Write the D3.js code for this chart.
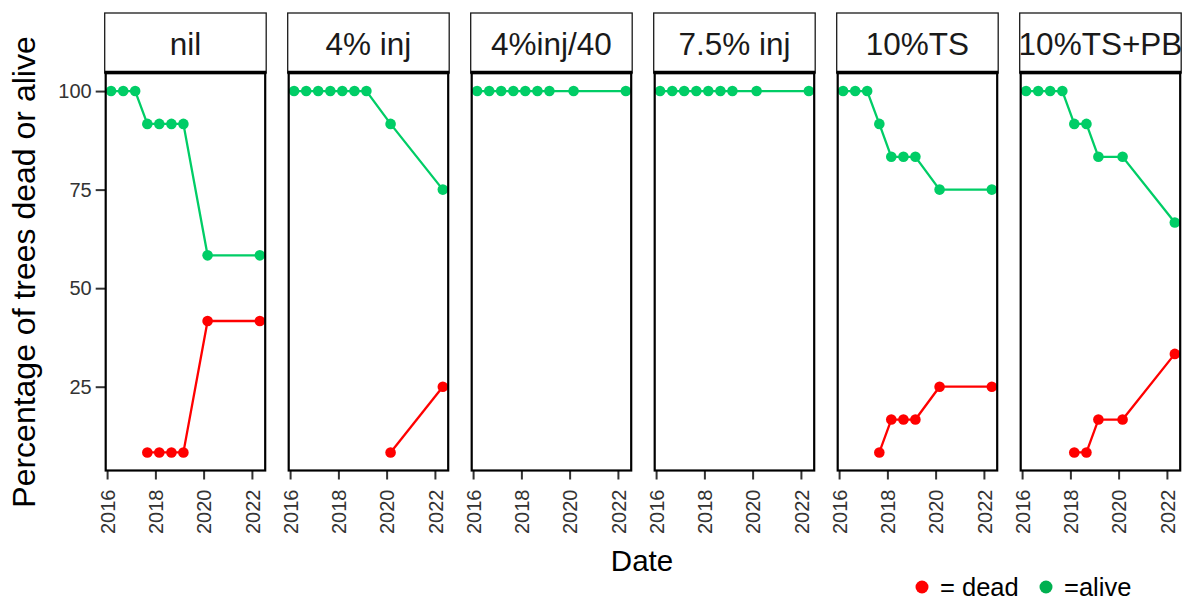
<!DOCTYPE html>
<html>
<head>
<meta charset="utf-8">
<script src="https://cdn.jsdelivr.net/npm/d3@7"></script>
<style>
  html, body { margin: 0; padding: 0; background: #fff; }
  svg { display: block; font-family: "Liberation Sans", Arial, Helvetica, sans-serif; }
</style>
</head>
<body>
<svg id="chart" width="1189" height="601"></svg>
<script>
// Survey dates (one observation per visit)
const surveyDates = ["2016-03-01", "2016-09-01", "2017-03-01", "2017-09-01", "2018-03-01",
                     "2018-09-01", "2019-03-01", "2020-03-01", "2022-05-01"];

// Treatment groups, one facet each
const treatments = ["nil", "4% inj", "4%inj/40", "7.5% inj", "10%TS", "10%TS+PB"];

// Percentage of trees alive per treatment, aligned with surveyDates
const alivePct = [
  [100, 100, 100, 91.67, 91.67, 91.67, 91.67, 58.33, 58.33],
  [100, 100, 100, 100, 100, 100, 100, 91.67, 75],
  [100, 100, 100, 100, 100, 100, 100, 100, 100],
  [100, 100, 100, 100, 100, 100, 100, 100, 100],
  [100, 100, 100, 91.67, 83.33, 83.33, 83.33, 75, 75],
  [100, 100, 100, 100, 91.67, 91.67, 83.33, 83.33, 66.67]
];

// Percentage of trees dead per treatment (null = no dead trees recorded yet)
const deadPct = [
  [null, null, null, 8.33, 8.33, 8.33, 8.33, 41.67, 41.67],
  [null, null, null, null, null, null, null, 8.33, 25],
  [null, null, null, null, null, null, null, null, null],
  [null, null, null, null, null, null, null, null, null],
  [null, null, null, 8.33, 16.67, 16.67, 16.67, 25, 25],
  [null, null, null, null, 8.33, 8.33, 16.67, 16.67, 33.33]
];

const yTicks = [25, 50, 75, 100];
const xTickYears = [2016, 2018, 2020, 2022];
const legendItems = [
  { label: "= dead", color: "#FF0000" },
  { label: "=alive", color: "#00B050" }
];

const deadColor = "#FF0000";
const aliveColor = "#00CD66";

const svg = d3.select("#chart");
const parse = d3.timeParse("%Y-%m-%d");
const dates = surveyDates.map(parse);

// Layout
const panelLeft0 = 105.7, panelStep = 183, panelW = 159.5;
const stripTop = 13, panelTop = 73, panelBottom = 470.5;

// Shared scales (facets share axes)
const ext = d3.extent(dates);
const span = ext[1] - ext[0];
const pad = span * 0.036;
const x = d3.scaleTime()
  .domain([new Date(+ext[0] - pad), new Date(+ext[1] + pad)])
  .range([0, panelW]);

const yMin = 8.33, yMax = 100, yPad = (yMax - yMin) * 0.05;
const y = d3.scaleLinear()
  .domain([yMin - yPad, yMax + yPad])
  .range([panelBottom, panelTop]);

const line = d3.line()
  .defined(d => d.v != null)
  .x(d => x(d.date))
  .y(d => y(d.v));

treatments.forEach((name, i) => {
  const g = svg.append("g").attr("transform", `translate(${panelLeft0 + i * panelStep},0)`);

  // strip
  g.append("rect")
    .attr("x", -1).attr("y", stripTop)
    .attr("width", panelW + 2).attr("height", panelTop - stripTop)
    .attr("fill", "#fff").attr("stroke", "#1a1a1a").attr("stroke-width", 1.3);
  g.append("text")
    .attr("x", panelW / 2).attr("y", 55)
    .attr("text-anchor", "middle")
    .attr("font-size", 31.5)
    .attr("fill", "#1a1a1a")
    .text(name);

  // x axis (ticks below the panel)
  const xAxis = d3.axisBottom(x)
    .tickValues(xTickYears.map(yr => new Date(yr, 0, 1)))
    .tickFormat(d3.timeFormat("%Y"))
    .tickSize(9)
    .tickSizeOuter(0);
  const xa = g.append("g").attr("transform", `translate(0,${panelBottom})`).call(xAxis);
  xa.select(".domain").remove();
  xa.selectAll(".tick line").attr("stroke", "#333").attr("stroke-width", 2);
  xa.selectAll(".tick text")
    .attr("font-size", 20)
    .attr("font-family", "Liberation Sans, Arial, sans-serif")
    .attr("fill", "#333")
    .attr("transform", "rotate(-90)")
    .attr("text-anchor", "end")
    .attr("x", -19)
    .attr("y", 0)
    .attr("dy", "0.36em");

  // y axis on the first facet only
  if (i === 0) {
    const yAxis = d3.axisLeft(y).tickValues(yTicks).tickSize(10).tickSizeOuter(0);
    const ya = g.append("g").call(yAxis);
    ya.select(".domain").remove();
    ya.selectAll(".tick line").attr("stroke", "#333").attr("stroke-width", 2);
    ya.selectAll(".tick text")
      .attr("font-size", 20)
      .attr("font-family", "Liberation Sans, Arial, sans-serif")
      .attr("fill", "#333")
      .attr("x", -14);
  }

  const aliveData = dates.map((d, k) => ({ date: d, v: alivePct[i][k] }));
  const deadData = dates.map((d, k) => ({ date: d, v: deadPct[i][k] }));

  [[deadData, deadColor], [aliveData, aliveColor]].forEach(([data, color]) => {
    g.append("path")
      .datum(data)
      .attr("d", line)
      .attr("fill", "none")
      .attr("stroke", color)
      .attr("stroke-width", 2.3);
    g.selectAll(null)
      .data(data.filter(d => d.v != null))
      .enter().append("circle")
      .attr("cx", d => x(d.date))
      .attr("cy", d => y(d.v))
      .attr("r", 5.3)
      .attr("fill", color);
  });

  // panel border
  g.append("rect")
    .attr("x", 0).attr("y", panelTop)
    .attr("width", panelW).attr("height", panelBottom - panelTop)
    .attr("fill", "none").attr("stroke", "#000").attr("stroke-width", 2.2);
  g.append("line")
    .attr("x1", -1).attr("x2", panelW + 1)
    .attr("y1", panelTop - 0.5).attr("y2", panelTop - 0.5)
    .attr("stroke", "#000").attr("stroke-width", 3.5);
});

// axis titles
svg.append("text")
  .attr("x", 642).attr("y", 571)
  .attr("text-anchor", "middle")
  .attr("font-size", 29.5)
  .attr("fill", "#000")
  .text("Date");

svg.append("text")
  .attr("transform", "translate(35,272) rotate(-90)")
  .attr("text-anchor", "middle")
  .attr("font-size", 32)
  .attr("fill", "#000")
  .text("Percentage of trees dead or alive");

// legend
const legendX = [922, 1046];
legendItems.forEach((item, k) => {
  svg.append("circle")
    .attr("cx", legendX[k]).attr("cy", 587)
    .attr("r", 6.5).attr("fill", item.color);
  svg.append("text")
    .attr("x", legendX[k] + 18).attr("y", 596)
    .attr("font-size", 25.5)
    .attr("fill", "#000")
    .text(item.label);
});
</script>
</body>
</html>
